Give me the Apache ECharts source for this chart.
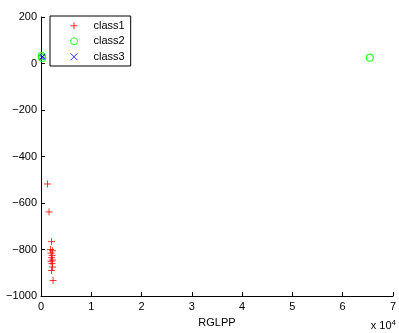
<!DOCTYPE html>
<html><head><meta charset="utf-8">
<script src="https://cdn.jsdelivr.net/npm/echarts@6/dist/echarts.min.js"></script>
<style>html,body{margin:0;padding:0;background:#fff}#c{width:399px;height:333px}</style>
</head><body><div id="c"></div>
<script>
const seriesNames = ['class1', 'class2', 'class3'];
const class1X = [1300, 1600, 2100, 1900, 2300, 2000, 2200, 2100, 2300, 2000, 2200, 2300, 2100, 2400];
const class1Y = [-518, -638, -766, -800, -805, -815, -825, -835, -845, -850, -860, -875, -890, -933];
const class2X = [150, 250, 65400];
const class2Y = [32, 24, 25];
const class3X = [200, 300];
const class3Y = [26, 30];
const xTicks = [0, 1, 2, 3, 4, 5, 6, 7];
const yTicks = [-1000, -800, -600, -400, -200, 0, 200];

const zip = (a, b) => a.map((v, i) => [v, b[i]]);
const font = 'Liberation Sans, Arial, sans-serif';
const plusPath = 'path://M0,5L10,5M5,0L5,10';
const crossPath = 'path://M0,0L10,10M10,0L0,10';

const chart = echarts.init(document.getElementById('c'), null, {renderer: 'canvas'});
chart.setOption({
  animation: false,
  backgroundColor: '#fff',
  grid: {left: 41, right: 1, top: 17, bottom: 34},
  xAxis: {
    type: 'value', min: 0, max: 70000, interval: 10000,
    name: 'RGLPP', nameLocation: 'middle', nameGap: 18,
    nameTextStyle: {color: '#000', fontSize: 11, fontFamily: font},
    axisLine: {show: true, onZero: false, lineStyle: {color: '#000', width: 1}},
    axisTick: {show: true, inside: true, length: 4, lineStyle: {color: '#000'}},
    axisLabel: {color: '#000', fontSize: 11, fontFamily: font, margin: 5,
      formatter: v => String(xTicks[Math.round(v / 10000)])},
    splitLine: {show: false}
  },
  yAxis: {
    type: 'value', min: -1000, max: 200, interval: 200,
    axisLine: {show: true, onZero: false, lineStyle: {color: '#000', width: 1}},
    axisTick: {show: true, inside: true, length: 4, lineStyle: {color: '#000'}},
    axisLabel: {color: '#000', fontSize: 11, fontFamily: font, margin: 4,
      formatter: v => String(v).replace('-', '\u2212')},
    splitLine: {show: false}
  },
  legend: {
    orient: 'vertical', left: 50, top: 16,
    padding: [3.5, 6, 3, 20],
    itemWidth: 7, itemHeight: 7, itemGap: 3,
    itemStyle: {borderWidth: 1},
    borderColor: '#000', borderWidth: 1, backgroundColor: '#fff',
    textStyle: {color: '#000', fontSize: 11, lineHeight: 12.5, fontFamily: font, padding: [0, 0, 0, 11]},
    data: seriesNames
  },
  graphic: [{
    type: 'text', right: 3, bottom: 2,
    style: {
      text: '{a|x 10}{b|4}',
      rich: {
        a: {fontSize: 11, fontFamily: font, fill: '#000'},
        b: {fontSize: 8, fontFamily: font, fill: '#000', verticalAlign: 'top', padding: [0, 0, 6, 0]}
      }
    }
  }],
  series: [
    {name: seriesNames[0], type: 'scatter', symbol: plusPath, symbolSize: 7,
     itemStyle: {color: 'rgba(0,0,0,0)', borderColor: '#ff0000', borderWidth: 1},
     data: zip(class1X, class1Y)},
    {name: seriesNames[1], type: 'scatter', symbol: 'circle', symbolSize: 7,
     itemStyle: {color: 'rgba(0,0,0,0)', borderColor: '#00ff00', borderWidth: 1.2},
     data: zip(class2X, class2Y)},
    {name: seriesNames[2], type: 'scatter', symbol: crossPath, symbolSize: 5,
     itemStyle: {color: 'rgba(0,0,0,0)', borderColor: '#0000ff', borderWidth: 1},
     data: zip(class3X, class3Y)}
  ]
});
</script></body></html>
